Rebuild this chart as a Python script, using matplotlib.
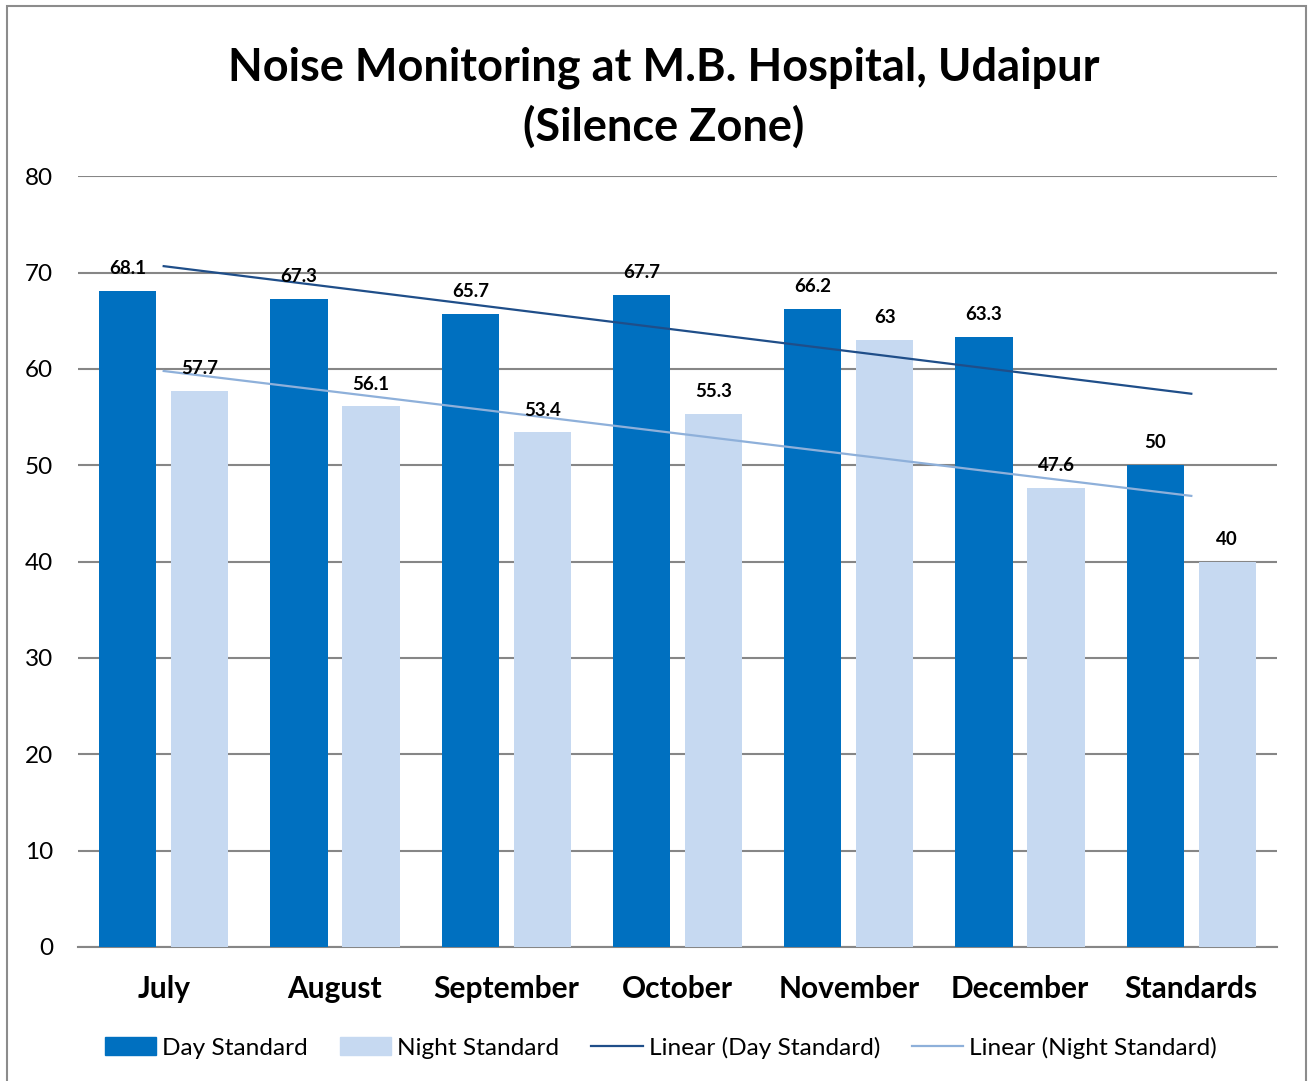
import matplotlib
matplotlib.use('Agg')
import matplotlib.pyplot as plt
import matplotlib.patches as patches
from matplotlib.lines import Line2D
import numpy as np

# data
months = ['July', 'August', 'September', 'October', 'November', 'December', 'Standards']
day = [68.1, 67.3, 65.7, 67.7, 66.2, 63.3, 50]
night = [57.7, 56.1, 53.4, 55.3, 63, 47.6, 40]
day_labels = ['68.1', '67.3', '65.7', '67.7', '66.2', '63.3', '50']
night_labels = ['57.7', '56.1', '53.4', '55.3', '63', '47.6', '40']

day_col = '#0070C0'
night_col = '#C6D9F1'
day_trend_col = '#1F4E89'
night_trend_col = '#8EB0DA'
grid_col = '#868686'

plt.rcParams['font.family'] = ['Lato', 'DejaVu Sans']

fig = plt.figure(figsize=(13.14, 10.81), dpi=100)
ax = fig.add_axes([0.0594, 0.124, 0.9124, 0.713])

x = np.arange(len(months))
w = 0.335
off = 0.21

ax.bar(x - off, day, w, color=day_col, zorder=3)
ax.bar(x + off, night, w, color=night_col, zorder=3)

for xi, v, s in zip(x, day, day_labels):
    ax.annotate(s, (xi - off, v), xytext=(0, 10), textcoords='offset points',
                ha='center', va='bottom', fontsize=13.5, fontweight='bold', zorder=5)
for xi, v, s in zip(x, night, night_labels):
    ax.annotate(s, (xi + off, v), xytext=(0, 10), textcoords='offset points',
                ha='center', va='bottom', fontsize=13.5, fontweight='bold', zorder=5)

# linear trend lines, fit over category positions 1..7
pd_ = np.poly1d(np.polyfit(x + 1, day, 1))
pn_ = np.poly1d(np.polyfit(x + 1, night, 1))
ax.plot(x, pd_(x + 1), color=day_trend_col, lw=1.6, zorder=4)
ax.plot(x, pn_(x + 1), color=night_trend_col, lw=1.6, zorder=4)

ax.set_xlim(-0.5, len(months) - 0.5)
ax.set_ylim(0, 80)
ax.set_yticks(range(0, 81, 10))
ax.yaxis.grid(True, color=grid_col, lw=1.5, zorder=0)
ax.set_axisbelow(True)
for sp in ['top', 'right', 'left']:
    ax.spines[sp].set_visible(False)
ax.spines['bottom'].set_color(grid_col)
ax.spines['bottom'].set_linewidth(1.5)
ax.tick_params(axis='both', length=0)
ax.tick_params(axis='y', labelsize=17.5, pad=18)
ax.set_xticks(x)
ax.set_xticklabels(months, fontsize=21.5, fontweight='bold')
ax.tick_params(axis='x', pad=20)

fig.text(0.505, 0.910, 'Noise Monitoring at M.B. Hospital, Udaipur\n(Silence Zone)',
         ha='center', va='center', fontsize=32.5, fontweight='bold', linespacing=1.45)

handles = [patches.Patch(color=day_col), patches.Patch(color=night_col),
           Line2D([], [], color=day_trend_col, lw=1.6),
           Line2D([], [], color=night_trend_col, lw=1.6)]
names = ['Day Standard', 'Night Standard', 'Linear (Day Standard)', 'Linear (Night Standard)']
fig.legend(handles, names, loc='center', bbox_to_anchor=(0.503, 0.031), ncol=4,
           frameon=False, fontsize=17.6, handlelength=2.1, handleheight=0.7,
           handletextpad=0.25, columnspacing=1.3)

fig.patches.append(patches.Rectangle((7 / 1314, -0.01), 1299 / 1314, 1.0 - 6 / 1081 + 0.01,
                                     transform=fig.transFigure, fill=False,
                                     edgecolor='#8C8C8C', lw=1.5))

fig.savefig('out.png', dpi=100)
